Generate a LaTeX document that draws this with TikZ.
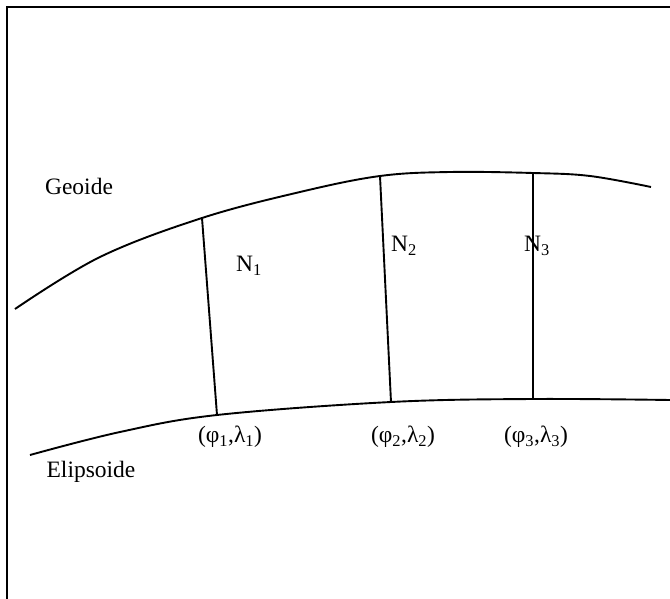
\documentclass[tikz,border=0pt]{standalone}
\usepackage{fontspec}
\setmainfont{Liberation Serif}
\begin{document}
\begin{tikzpicture}[x=1pt,y=-1pt,
  lbl/.style={font=\fontsize{23.5}{28}\selectfont, inner sep=0pt},
  curve/.style={line width=1.9pt, line join=round},
  normal/.style={line width=1.9pt}]
\useasboundingbox (0,0) rectangle (670,599);
% frame
\draw[line width=2pt] (7,599) -- (7,7) -- (670,7);
% geoide
\draw[curve] plot[smooth, tension=0.6] coordinates {(15,309) (100,257) (202,218) (300,192) (380,176) (450,172) (533,173) (590,176) (651,187)};
% elipsoide
\draw[curve] plot[smooth, tension=0.6] coordinates {(30,455) (120,432) (217,415) (391,402) (533,399) (670,400)};
% endpoints
\coordinate (g1) at (202,218);
\coordinate (e1) at (217,415);
\coordinate (g2) at (380,176);
\coordinate (e2) at (391,402);
\coordinate (g3) at (533,173);
\coordinate (e3) at (533,399);
\draw[normal] (g1) -- (e1);
\draw[normal] (g2) -- (e2);
\draw[normal] (g3) -- (e3);
% labels
\node[lbl] (geo) at (79,186) {Geoide};
\node[lbl] (eli) at (91,472) {Elipsoide};
\node[lbl] (n1) at (249,266) {N\textsubscript{1}};
\node[lbl] (n2) at (404,246) {N\textsubscript{2}};
\node[lbl] (n3) at (537,246) {N\textsubscript{3}};
\node[lbl] (p1) at (230,437) {(φ\textsubscript{1},λ\textsubscript{1})};
\node[lbl] (p2) at (403,437) {(φ\textsubscript{2},λ\textsubscript{2})};
\node[lbl] (p3) at (536,437) {(φ\textsubscript{3},λ\textsubscript{3})};
\end{tikzpicture}
\end{document}
